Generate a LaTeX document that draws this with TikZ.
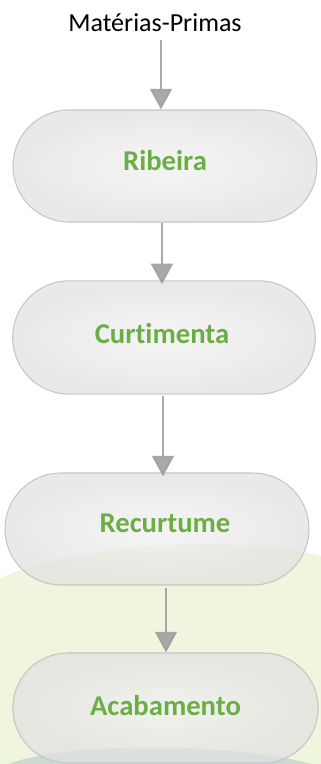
\documentclass[tikz,border=0pt]{standalone}
\usepackage{fontspec}
\setmainfont[Ligatures=NoCommon]{Carlito}
\usetikzlibrary{arrows.meta,shapes.misc}
\definecolor{labgreen}{HTML}{6CAE46}
\definecolor{arrgray}{HTML}{A0A0A0}
\definecolor{bggreen}{HTML}{F0F6DD}
\definecolor{bgblue}{HTML}{CCDAD2}
\definecolor{boxin}{HTML}{F1F1F1}
\definecolor{boxout}{HTML}{E0E0E0}
\definecolor{boxline}{HTML}{C6C6C6}
\begin{document}
\begin{tikzpicture}[x=0.75pt,y=-0.75pt,
  pill/.style={rounded rectangle, inner sep=0pt, draw=boxline, line width=0.8pt,
    inner color=boxin, outer color=boxout, fill opacity=0.72, text opacity=1,
    font=\fontsize{21.5pt}{24pt}\selectfont\bfseries, text=labgreen},
  arr/.style={draw=arrgray, line width=1.5pt, draw opacity=0.9, fill opacity=0.9,
    -{Triangle[width=16.5pt,length=15.5pt,fill=arrgray]}},
  title/.style={font=\fontsize{19.5pt}{22pt}\selectfont, text=black, inner sep=0pt}]
\useasboundingbox (0,0) rectangle (321,764);
% background
\fill[bggreen] (0,578) .. controls (90,540) and (240,536) .. (321,556) -- (321,764) -- (0,764) -- cycle;
\fill[bgblue] (8,764) .. controls (60,744) and (220,740) .. (312,764) -- cycle;
% title
\node[title] (mp) at (155,23) {Matérias-Primas};
% boxes
\node[pill, minimum width=228pt, minimum height=84pt] (b1) at (165,166) {\raisebox{9pt}{Ribeira}};
\node[pill, minimum width=227pt, minimum height=85pt] (b2) at (164,337.5) {\hspace*{-3pt}\raisebox{6.75pt}{Curtimenta}};
\node[pill, minimum width=228pt, minimum height=84pt] (b3) at (157,529) {\hspace*{12pt}\raisebox{9pt}{Recurtume}};
\node[pill, minimum width=229pt, minimum height=82.5pt] (b4) at (165.5,708) {\raisebox{4.5pt}{Acabamento}};
% arrows
\draw[arr] ([yshift=-5.5pt]mp.south -| 161,0) -- (b1.north -| 161,0);
\draw[arr] (b1.south -| 162,0) -- ([yshift=-3pt]b2.north -| 162,0);
\draw[arr] ([yshift=-1pt]b2.south -| 163,0) -- ([yshift=-3pt]b3.north -| 163,0);
\draw[arr] ([yshift=-1.5pt]b3.south -| 166,0) -- (b4.north -| 166,0);
\end{tikzpicture}
\end{document}
